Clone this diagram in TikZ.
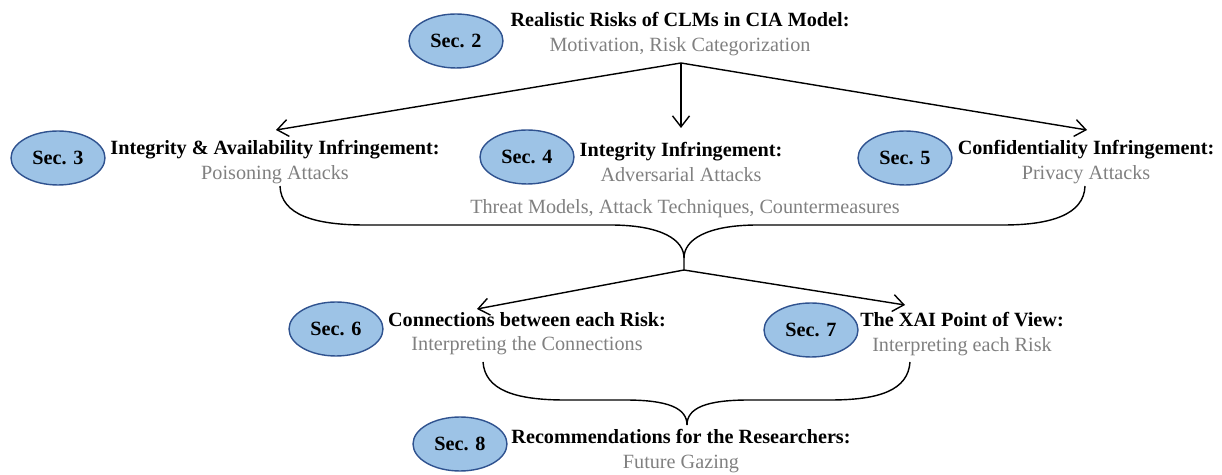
\documentclass[tikz,border=0pt]{standalone}
\usepackage{fontspec}
\setmainfont{Liberation Serif}
\usepackage{tikz}
\usetikzlibrary{shapes.geometric, arrows.meta, positioning, calc}
\usepackage{xcolor}
\definecolor{secfill}{RGB}{157,195,230}
\definecolor{secdraw}{RGB}{47,82,143}
\definecolor{subgray}{RGB}{128,128,128}

\begin{document}
\begin{tikzpicture}[
    x = 0.02cm, y = -0.02cm,
    sec/.style = {ellipse, draw=secdraw, thick, fill=secfill, minimum width=1.88cm, minimum height=1.08cm, inner sep=0pt, font=\fontsize{11.5}{14}\selectfont\bfseries},
    topic/.style = {align=center, inner sep=0pt, font=\fontsize{11.5}{13.8}\selectfont},
    note/.style = {inner sep=0pt, text=subgray, font=\fontsize{11.5}{14}\selectfont},
    link/.style = {-{Straight Barb[length=2.2mm,width=3.4mm]}, thick},
    brace/.style = {thick}
]
    \useasboundingbox (0,0) rectangle (1222,475);

    % 1. Section ellipses
    \node [sec] (sec2) at (456,41) {Sec. 2};
    \node [sec] (sec3) at (58,158) {Sec. 3};
    \node [sec] (sec4) at (527,157) {Sec. 4};
    \node [sec] (sec5) at (905,158) {Sec. 5};
    \node [sec] (sec6) at (336,329) {Sec. 6};
    \node [sec] (sec7) at (811,330) {Sec. 7};
    \node [sec] (sec8) at (460,444) {Sec. 8};

    % 2. Topics (title + subtitle)
    \node [topic] (cia) at (680,34) {\textbf{Realistic Risks of CLMs in CIA Model:}\\\textcolor{subgray}{Motivation, Risk Categorization}};
    \node [topic] (poison) at (275,162) {\textbf{Integrity \& Availability Infringement:}\\\textcolor{subgray}{Poisoning Attacks}};
    \node [topic] (adv) at (681,162) {\textbf{Integrity Infringement:}\\\textcolor{subgray}{Adversarial Attacks}};
    \node [topic] (priv) at (1086,162) {\textbf{Confidentiality Infringement:}\\\textcolor{subgray}{Privacy Attacks}};
    \node [topic] (conn) at (527,334) {\textbf{Connections between each Risk:}\\\textcolor{subgray}{Interpreting the Connections}};
    \node [topic] (xai) at (962,334) {\textbf{The XAI Point of View:}\\\textcolor{subgray}{Interpreting each Risk}};
    \node [topic] (rec) at (681,451) {\textbf{Recommendations for the Researchers:}\\\textcolor{subgray}{Future Gazing}};
    \node [note] (threat) at (685,209) {Threat Models, Attack Techniques, Countermeasures};

    % 3. Split points and arrow ends
    \coordinate (split1) at (681,63);
    \coordinate (split2) at (684,270);
    \coordinate (split3) at (687,425);
    \coordinate (poisonin) at (276,130);
    \coordinate (advin) at (681,128);
    \coordinate (privin) at (1087,130);
    \coordinate (connin) at (477,309);
    \coordinate (xaiin) at (905,305);
    \coordinate (b1l) at (280,186);
    \coordinate (b1r) at (1085,186);
    \coordinate (b2l) at (483,362);
    \coordinate (b2r) at (910,362);

    % 4. Arrows
    \draw [link] (split1) -- (poisonin);
    \draw [link] (split1) -- (advin);
    \draw [link] (split1) -- (privin);
    \draw [link] (split2) -- (connin);
    \draw [link] (split2) -- (xaiin);

    % 5. Braces
    \draw [brace] (b1l) .. controls (281,215) and (315,225) .. (365,225) -- (610,225)
        .. controls (662,225) and (684,240) .. (684,258) -- (split2);
    \draw [brace] (b1r) .. controls (1084,215) and (1050,225) .. (1003,225) -- (758,225)
        .. controls (706,225) and (684,240) .. (684,258);
    \draw [brace] (b2l) .. controls (485,390) and (515,400) .. (565,400) -- (625,400)
        .. controls (668,400) and (687,408) .. (split3);
    \draw [brace] (b2r) .. controls (908,390) and (880,400) .. (830,400) -- (749,400)
        .. controls (706,400) and (687,408) .. (split3);
\end{tikzpicture}
\end{document}
